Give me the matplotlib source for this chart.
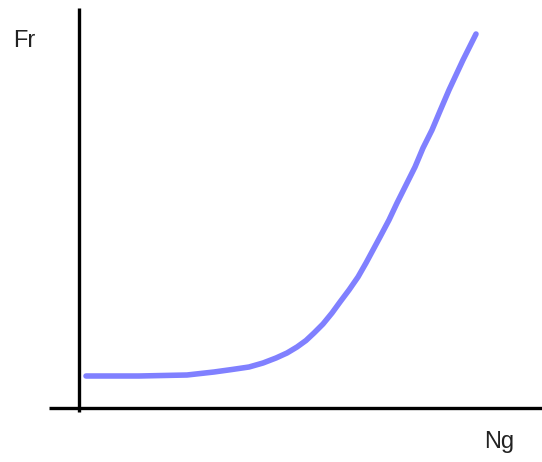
import matplotlib
matplotlib.use("Agg")
import matplotlib.pyplot as plt

# Curve values (Ng horizontal, Fr vertical)
ng = [7, 60, 108, 135, 153, 170, 184, 197, 208, 218, 227, 235, 244, 253,
      261, 270, 279, 287, 294, 301, 310, 318, 327, 336, 344, 353, 361, 370,
      377, 384, 391, 397]
fr = [32, 32, 33, 36, 38.5, 41, 45, 50, 55, 61, 67.5, 75, 84, 95,
      106, 118, 131, 145, 158, 171, 188, 205, 223, 241, 260, 278, 297, 318,
      333, 348, 362, 374]

x_label = "Ng"
y_label = "Fr"

fig = plt.figure(figsize=(5.42, 4.62), dpi=100)
ax = fig.add_axes([0, 0, 1, 1])
ax.set_xlim(-79, 463)
ax.set_ylim(-54, 408)
ax.axis("off")

# axis lines
ax.plot([-30, 463], [0, 0], color="black", lw=2.4, solid_capstyle="butt")
ax.plot([0, 0], [-4, 400], color="black", lw=2.4, solid_capstyle="butt")

ax.plot(ng, fr, color="#8080ff", lw=4.0, solid_capstyle="round", solid_joinstyle="round")

ax.text(-66, 361, y_label, fontsize=17, family="Liberation Sans", color="#222222",
        ha="left", va="baseline")
ax.text(405, -40, x_label, fontsize=17, family="Liberation Sans", color="#222222",
        ha="left", va="baseline")

fig.savefig("out.png", dpi=100)
